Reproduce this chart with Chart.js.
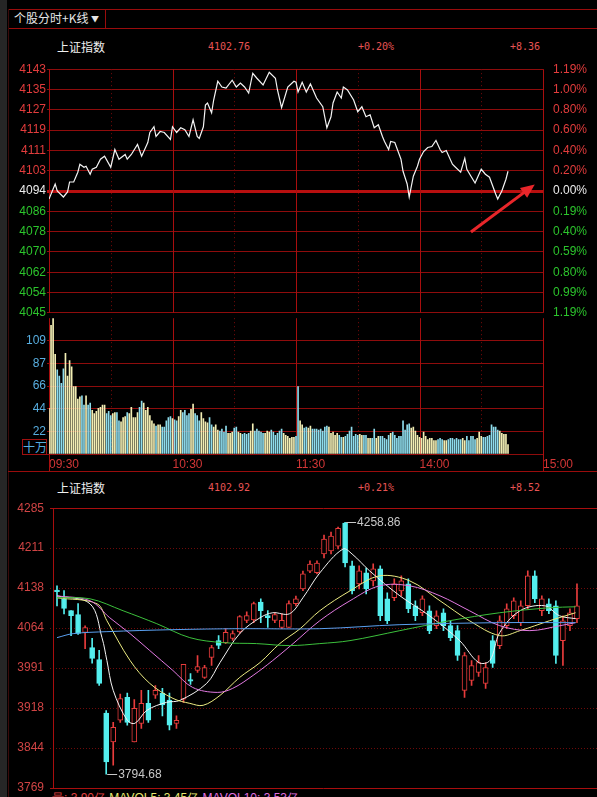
<!DOCTYPE html>
<html><head><meta charset="utf-8">
<script src="https://cdn.jsdelivr.net/npm/chart.js@4/dist/chart.umd.min.js"></script>
<style>
html,body{margin:0;padding:0;background:#000;width:597px;height:797px;overflow:hidden;}
canvas{position:absolute;left:0;}
.t{position:absolute;white-space:nowrap;}
.cn{font-family:"Noto Sans CJK SC",sans-serif;font-size:12px;color:#f0f0f0;line-height:14px;}
.num{font-family:"DejaVu Sans Mono",monospace;font-size:10px;color:#e85454;line-height:12px;}
.ln{position:absolute;background:#9a0c0c;}
</style></head><body>
<div class="ln" style="left:0;top:0;width:7px;height:797px;background:#262626"></div>
<div class="ln" style="left:8px;top:9px;width:589px;height:1px"></div>
<div class="ln" style="left:8px;top:28px;width:589px;height:1px"></div>
<div class="ln" style="left:105px;top:9px;width:1px;height:19px"></div>
<div class="ln" style="left:8px;top:9px;width:1px;height:788px;background:#3a0a0a"></div>
<div class="t cn" style="left:14px;top:11px;font-size:12px;color:#e6e6e6">个股分时+K线 <span style="font-size:8px;position:relative;top:-1px">▼</span></div>
<div class="t cn" style="left:57px;top:40px">上证指数</div>
<div class="t num" style="left:208px;top:41px">4102.76</div>
<div class="t num" style="left:358px;top:41px">+0.20%</div>
<div class="t num" style="left:510px;top:41px">+8.36</div>
<div class="ln" style="left:8px;top:471px;width:589px;height:1px"></div>
<div class="t cn" style="left:57px;top:481px">上证指数</div>
<div class="t num" style="left:208px;top:482px">4102.92</div>
<div class="t num" style="left:358px;top:482px">+0.21%</div>
<div class="t num" style="left:510px;top:482px">+8.52</div>
<div class="t cn" style="left:22px;top:439px;width:23px;height:14px;border:1px solid #a01010;color:#58aee0;font-size:12px;text-align:center;line-height:14px">十万</div>
<div class="t" style="left:52px;top:790px;font-family:'Liberation Sans',sans-serif;font-size:12px;color:#e04040">量: 3.90亿 <span style="color:#e8e870">MAVOL5: 3.45亿</span> <span style="color:#e070e0">MAVOL10: 3.53亿</span></div>
<canvas id="cA" width="597" height="262" style="top:60px"></canvas>
<canvas id="cB" width="597" height="165" style="top:310px"></canvas>
<canvas id="cC" width="597" height="297" style="top:500px"></canvas>
<script>
// ---------- intraday data ----------
const prevClose = 4094.40;
const priceStep = 8.12;
const priceTickLabels = ['4143','4135','4127','4119','4111','4103','4094','4086','4078','4070','4062','4054','4045'];
const pctTickLabels = ['1.19%','1.00%','0.80%','0.60%','0.40%','0.20%','0.00%','0.19%','0.40%','0.59%','0.80%','0.99%','1.19%'];
const priceMinutes = [0,3,4,7,9,10,12,14,15,17,18,20,21,23,25,27,30,32,34,37,38,40,43,45,48,49,51,52,54,56,59,60,62,64,66,68,70,72,73,75,76,77,79,80,82,84,86,89,91,93,95,97,99,101,104,107,110,111,113,116,119,120,121,123,125,127,130,133,135,137,138,140,142,143,145,148,150,152,154,156,158,160,162,163,165,166,168,171,172,174,175,177,179,180,182,184,186,188,190,191,193,196,197,200,202,203,205,207,210,212,214,217,218,220,222,223];
const priceValues = [4091.2,4097.2,4094.4,4092.0,4094.0,4098.0,4098.0,4101.9,4105.1,4103.9,4104.3,4101.1,4103.1,4103.9,4107.1,4108.3,4103.9,4111.0,4107.1,4109.0,4107.1,4109.0,4113.0,4108.3,4113.8,4117.8,4120.1,4116.2,4118.2,4117.8,4115.0,4120.1,4117.8,4119.7,4118.9,4116.2,4122.9,4116.2,4115.4,4120.1,4128.8,4129.6,4125.7,4130.8,4138.3,4136.0,4135.6,4138.7,4136.0,4137.6,4136.0,4133.6,4141.5,4139.5,4136.8,4141.9,4139.5,4134.8,4127.7,4136.0,4138.3,4137.9,4134.0,4137.9,4134.0,4137.2,4131.6,4128.1,4119.7,4124.1,4129.6,4134.0,4131.6,4136.0,4134.8,4130.8,4126.1,4128.1,4124.1,4124.9,4119.7,4120.9,4116.2,4114.2,4111.0,4114.2,4113.8,4107.1,4102.3,4097.2,4092.0,4100.3,4104.3,4107.1,4110.2,4111.8,4112.2,4114.6,4111.0,4109.8,4110.6,4105.1,4104.3,4101.9,4107.5,4103.1,4100.3,4097.6,4103.1,4101.1,4099.9,4093.2,4091.2,4094.4,4099.1,4102.3];
const volumeAM = [44,124,131,96,81,75,68,82,97,75,90,84,65,65,53,55,56,47,56,47,49,42,39,41,44,45,47,47,39,41,37,39,40,40,32,31,35,36,40,39,45,35,35,40,45,51,49,42,45,37,32,29,27,28,28,26,26,32,35,36,34,33,32,36,42,40,42,37,39,43,48,39,37,32,40,34,31,30,35,28,26,28,23,22,24,21,27,20,20,21,25,26,21,20,19,20,19,20,22,29,22,24,22,21,20,20,22,21,23,21,18,20,22,24,20,18,17,15,16,16,17];
const volumePM = [65,32,28,25,26,25,27,24,24,24,23,24,22,26,27,26,20,21,18,20,18,16,16,17,19,22,26,17,19,18,19,18,18,18,15,15,15,24,15,17,17,17,15,14,18,20,21,18,15,17,17,32,23,28,29,25,26,22,18,16,15,21,17,14,15,15,13,13,14,15,14,13,13,14,15,15,14,15,14,14,15,13,17,13,17,17,14,15,21,17,16,16,17,18,28,26,26,23,22,20,19,19,9];
const volStep = 21.8;
const volTickLabels = ['22','44','66','87','109'];
const timeTickMinutes = [0,60,120,180,240];
const timeTickLabels = ['09:30','10:30','11:30','14:00','15:00'];

// ---------- daily K-line data ----------
const candleTickLabels = ['4285','4211','4138','4064','3991','3918','3844','3769'];
const candleOpen  = [4134,4118,4096,4089,4056,4028,4006,3907,3854,3894,3936,3854,3888,3925,3940,3944,3931,3888,3933,3969,3986,3973,4010,4041,4037,4045,4057,4078,4079,4112,4087,4078,4065,4065,4109,4136,4169,4166,4200.5,4206.1,4215.2,4257.5,4178.5,4145.5,4165.7,4151.0,4173.0,4117.9,4119.8,4132.6,4145.5,4105.1,4092.2,4095.9,4068.4,4092.2,4068.4,4059.2,3949.0,3967.4,3982.1,3961.9,4040.8,4031.6,4068.4,4086.7,4073.9,4105.1,4160.2,4095.9,4108.7,4105.1,4040.8,4068.4,4081.2];
const candleHigh  = [4142,4133,4096,4109,4068,4045,4023,3912,3890,3942,3944,3932,3949,3949,3958,3953,3944,3902,3997,3980,4013,3995,4032,4050,4063,4059,4087,4094,4112,4118,4096,4092,4090,4114,4123,4169,4188,4188,4235.4,4241.0,4250.0,4258.86,4187.7,4178.5,4174.8,4182.2,4178.5,4128.9,4154.6,4160.2,4154.6,4114.3,4123.4,4105.1,4095.9,4099.6,4077.5,4068.4,4018.8,4004.1,4013.3,4000.4,4050.0,4086.7,4108.7,4119.8,4114.3,4169.3,4169.3,4123.4,4117.9,4114.3,4086.7,4099.6,4145.5];
const candleLow   = [4105,4090,4050,4052,4026,3999,3958,3794.68,3811,3890,3885,3854,3879,3890,3934,3902,3876,3879,3927,3960,3982,3971,3995,4026,4035,4041,4054,4074,4074,4074,4065,4074,4063,4065,4105,4133,4166,4164,4193.2,4200.5,4209.7,4176.7,4127.1,4136.3,4127.1,4141.8,4077.5,4072.0,4114.3,4123.4,4092.2,4077.5,4086.7,4053.7,4062.8,4059.2,4040.8,4004.1,3936.2,3958.2,3974.7,3952.7,3991.2,4026.1,4062.8,4081.2,4068.4,4099.6,4110.6,4086.7,4090.4,3998.6,3994.9,4059.2,4073.9];
const candleClose = [4131,4100,4087,4054,4065,4008,3962,3817,3881,3934,3890,3916,3925,3894,3949,3922,3885,3894,3997,3966,3993,3991,4028,4032,4056,4054,4085,4087,4109,4096,4083,4089,4078,4109,4118,4164,4182,4184,4228.1,4233.6,4248.0,4184.0,4132.6,4169.3,4136.3,4173.0,4086.7,4077.5,4145.5,4151.0,4099.6,4086.7,4117.9,4059.2,4086.7,4068.4,4046.3,4013.3,4013.3,3994.9,4000.4,3991.2,3998.6,4077.5,4099.6,4114.3,4105.1,4160.2,4117.9,4117.9,4095.9,4013.3,4077.5,4092.2,4105.1];
// moving averages read at candle positions (index, value)
const ma5Idx  = [0,4.7,6.4,7.1,8,10,11.1,12.8,15.6,17.5,21.3,23.2,26,28.9,30.7,33.1,35,37.4,40.7,42,44.5,48.8,53,57.3,60,61.6,63,65.9,69.4,71.5,73.8];
const ma5Val  = [4123.4,4108.7,4046.3,4004.1,3949,3893.9,3888.4,3912.3,3927.0,3930.6,3961.9,4000.4,4053.7,4083.0,4092.2,4090.4,4119.8,4165.7,4209.7,4200.5,4169.3,4123.4,4086.7,4040.8,4000.4,4004,4055.5,4095.9,4105.1,4086.7,4081.2];
const ma10Idx = [0,5.7,7.1,10.4,13.2,16.5,18.9,20.8,23.2,26,28.9,31.7,34.6,37.4,41.7,45.9,50.2,54.5,58.7,63,65.9,70.1,73.8];
const ma10Val = [4119.8,4108.7,4077.5,4004.1,3961.9,3934.3,3925.1,3921.5,3939.8,3972.9,4000.4,4035.3,4062.8,4095.9,4132.6,4160.2,4151.0,4114.3,4077.5,4050.0,4059.2,4077.5,4092.2];
const ma20Idx = [0,4.7,7.5,10.4,13.2,16.5,19.3,22.8,25,27.9,30.7,33.6,37.4,41.7,45.9,50.2,54.5,58.7,63,67.3,71.6,73.8];
const ma20Val = [4123.4,4114.3,4083.0,4053.7,4022.5,3985.7,3954.5,3945.3,3952.7,3976.6,4004.1,4035.3,4077.5,4114.3,4141.8,4141.8,4123.4,4095.9,4068.4,4059.2,4068.4,4073.9];
const ma60Idx = [0,4.7,9.4,14.2,18.9,23.6,28.4,33.1,37.4,41.7,48.8,55.9,63,70.1,73.8];
const ma60Val = [4119.8,4117.9,4095.9,4072.0,4046.3,4037.1,4035.3,4031.6,4035.3,4040.8,4059.2,4077.5,4092.2,4101.4,4103.2];
const ma120Idx = [0,2.3,7.1,16.5,26,37.4,48.8,63,73.8];
const ma120Val = [4046.3,4053.7,4057.3,4061.0,4062.8,4062.8,4070.2,4073.9,4073.9];

// ---------- helpers ----------
const RED_GRID = '#8e0c0c';
const RED_LINE = '#a80e0e';
const LBL_FONT = {family:'Liberation Sans', size:12};
const priceTicksTopDown = priceTickLabels.map((_, k) => prevClose + (6 - k) * priceStep);
const priceAsc = priceTicksTopDown.slice().reverse();
const minutes = volumeAM.concat(volumePM);
function sideColor(k){ return k < 6 ? '#e23c3c' : (k === 6 ? '#ececec' : '#2cc42c'); }
function priceAt(m){
  for (let j = 1; j < priceMinutes.length; j++) {
    if (priceMinutes[j] >= m) {
      const a = priceMinutes[j-1], b = priceMinutes[j];
      return priceValues[j-1] + (priceValues[j] - priceValues[j-1]) * (m - a) / (b - a);
    }
  }
  return priceValues[priceValues.length - 1];
}
function drawTimeGrid(chart, extraBottom){
  const {ctx, chartArea:a, scales:{x}} = chart;
  ctx.save();
  for (let m = 0; m <= 240; m += 30) {
    const px = Math.round(x.getPixelForValue(m)) + 0.5;
    ctx.beginPath();
    if (m % 60 === 0 || m === 0 || m === 240) { ctx.setLineDash([]); ctx.strokeStyle = RED_LINE; }
    else { ctx.setLineDash([1,3]); ctx.strokeStyle = '#7a0a0a'; }
    ctx.lineWidth = 1;
    ctx.moveTo(px, a.top);
    ctx.lineTo(px, a.bottom + ((m === 240 || m === 0) ? extraBottom : 0));
    ctx.stroke();
  }
  ctx.restore();
}

// ---------- chart A: intraday price ----------
new Chart(document.getElementById('cA'), {
  type: 'line',
  data: { datasets: [{
    data: priceMinutes.map((m, i) => ({x: m, y: priceValues[i]})),
    borderColor: '#f4f4f4', borderWidth: 1.2, pointRadius: 0, tension: 0
  }]},
  options: {
    animation: false, responsive: false, devicePixelRatio: 1, events: [],
    layout: { padding: { top: 9, bottom: 7, left: 0, right: 0 } },
    plugins: { legend: { display: false }, tooltip: { enabled: false } },
    scales: {
      x: { type: 'linear', min: 0, max: 240, display: false },
      y: { position: 'left', min: priceAsc[0], max: priceAsc[12],
        afterBuildTicks: s => { s.ticks = priceAsc.map(v => ({value: v})); },
        afterFit: s => { s.width = 49; },
        ticks: { callback: (v, i) => priceTickLabels[12 - i], color: c => sideColor(12 - c.index), font: LBL_FONT, padding: 1 },
        grid: { color: c => c.index === 6 ? '#b80f0f' : RED_GRID, lineWidth: c => c.index === 6 ? 3 : 1, tickLength: 2 },
        border: { display: false } },
      y2: { position: 'right', min: priceAsc[0], max: priceAsc[12],
        afterBuildTicks: s => { s.ticks = priceAsc.map(v => ({value: v})); },
        afterFit: s => { s.width = 54; },
        ticks: { callback: (v, i) => pctTickLabels[12 - i], color: c => sideColor(12 - c.index), font: LBL_FONT, padding: 2 },
        grid: { display: false }, border: { display: false } }
    }
  },
  plugins: [{
    id: 'gridA',
    beforeDatasetsDraw(chart){ drawTimeGrid(chart, 0); },
    afterDatasetsDraw(chart){
      const {ctx, scales:{x, y}} = chart;
      const x0 = x.getPixelForValue(205), y0 = y.getPixelForValue(4078);
      const x1 = x.getPixelForValue(236), y1 = y.getPixelForValue(4097);
      const ang = Math.atan2(y1 - y0, x1 - x0);
      ctx.save();
      ctx.strokeStyle = '#e8262a'; ctx.fillStyle = '#e8262a'; ctx.lineWidth = 3;
      ctx.beginPath(); ctx.moveTo(x0, y0);
      ctx.lineTo(x1 - 9 * Math.cos(ang), y1 - 9 * Math.sin(ang)); ctx.stroke();
      ctx.beginPath(); ctx.moveTo(x1, y1);
      ctx.lineTo(x1 - 14 * Math.cos(ang) + 6 * Math.sin(ang), y1 - 14 * Math.sin(ang) - 6 * Math.cos(ang));
      ctx.lineTo(x1 - 14 * Math.cos(ang) - 6 * Math.sin(ang), y1 - 14 * Math.sin(ang) + 6 * Math.cos(ang));
      ctx.closePath(); ctx.fill();
      ctx.restore();
    }
  }]
});

// ---------- chart B: intraday volume ----------
new Chart(document.getElementById('cB'), {
  type: 'bar',
  data: { datasets: [{
    data: minutes.map((v, i) => ({x: i, y: v})),
    backgroundColor: c => {
      const i = c.dataIndex;
      return (i === 0 || priceAt(i) >= priceAt(i - 1)) ? '#f2eeb4' : '#8edcec';
    },
    barThickness: 1, grouped: false
  }]},
  options: {
    animation: false, responsive: false, devicePixelRatio: 1, events: [],
    layout: { padding: { top: 6, bottom: 0, left: 0, right: 54 } },
    plugins: { legend: { display: false }, tooltip: { enabled: false } },
    scales: {
      x: { type: 'linear', min: 0, max: 240, offset: false,
        afterBuildTicks: s => { s.ticks = timeTickMinutes.map(v => ({value: v})); },
        afterFit: s => { s.height = 21; },
        ticks: { callback: (v, i) => timeTickLabels[i], align: 'start', color: '#d23636', font: LBL_FONT, padding: 3, maxRotation: 0, autoSkip: false },
        grid: { display: false, drawTicks: false, tickLength: 0 }, border: { display: false } },
      y: { position: 'left', min: 0, max: volStep * 6,
        afterBuildTicks: s => { s.ticks = [0,1,2,3,4,5,6].map(k => ({value: k * volStep})); },
        afterFit: s => { s.width = 49; },
        ticks: { callback: (v, i) => (i >= 1 && i <= 5) ? volTickLabels[i - 1] : '', color: '#58aee0', font: LBL_FONT, padding: 1 },
        grid: { color: c => c.index === 6 ? 'rgba(0,0,0,0)' : RED_GRID, tickLength: 2 },
        border: { display: false } }
    }
  },
  plugins: [{ id: 'gridB', beforeDatasetsDraw(chart){ drawTimeGrid(chart, 17); } }]
});

// ---------- chart C: daily candles ----------
const candleStep = (4285 - 3769) / 7;
const candleAsc = candleTickLabels.map((_, k) => 3769 + k * candleStep);
const isUp = i => candleClose[i] >= candleOpen[i];
function maSet(idx, val, color){
  return { type: 'line', data: idx.map((x, i) => ({x, y: val[i]})), borderColor: color, borderWidth: 1,
    pointRadius: 0, tension: 0.35, order: 0 };
}
new Chart(document.getElementById('cC'), {
  type: 'bar',
  data: { datasets: [
    maSet(ma120Idx, ma120Val, '#5aa0f0'),
    maSet(ma60Idx, ma60Val, '#3cc03c'),
    maSet(ma20Idx, ma20Val, '#e27ae2'),
    maSet(ma10Idx, ma10Val, '#ecec82'),
    maSet(ma5Idx, ma5Val, '#f4f4f4'),
    { type: 'bar', order: 1, grouped: false, barThickness: 5,
      data: candleOpen.map((o, i) => ({x: i, y: [o, candleClose[i]]})),
      backgroundColor: c => isUp(c.dataIndex) ? '#000000' : '#54eeee',
      borderColor: c => isUp(c.dataIndex) ? '#e83c3c' : '#54eeee',
      borderWidth: 1, borderSkipped: false },
    { type: 'bar', order: 2, grouped: false, barThickness: 1,
      data: candleLow.map((l, i) => ({x: i, y: [l, candleHigh[i]]})),
      backgroundColor: c => isUp(c.dataIndex) ? '#e83c3c' : '#54eeee' }
  ]},
  options: {
    animation: false, responsive: false, devicePixelRatio: 1, events: [],
    layout: { padding: { top: 7, bottom: 9, left: 0, right: 0 } },
    plugins: { legend: { display: false }, tooltip: { enabled: false } },
    scales: {
      x: { type: 'linear', min: -0.57, max: 76.85, display: false, offset: false },
      y: { position: 'left', min: 3769, max: 4285,
        afterBuildTicks: s => { s.ticks = candleAsc.map(v => ({value: v})); },
        afterFit: s => { s.width = 53; },
        ticks: { callback: (v, i) => candleTickLabels[7 - i], color: '#d04444', font: LBL_FONT, padding: 1 },
        grid: { display: false }, border: { display: false } }
    }
  },
  plugins: [{
    id: 'gridC',
    beforeDatasetsDraw(chart){
      const {ctx, chartArea:a, scales:{y}} = chart;
      ctx.save();
      candleAsc.forEach((v, k) => {
        const py = Math.round(y.getPixelForValue(v)) + 0.5;
        ctx.beginPath();
        if (k === 0 || k === 7) { ctx.setLineDash([]); ctx.strokeStyle = RED_LINE; }
        else { ctx.setLineDash([1,2]); ctx.strokeStyle = '#6e0a0a'; }
        ctx.moveTo(a.left - 3, py); ctx.lineTo(a.right, py); ctx.stroke();
      });
      ctx.setLineDash([]); ctx.strokeStyle = RED_LINE;
      ctx.beginPath(); ctx.moveTo(a.left + 0.5, a.top); ctx.lineTo(a.left + 0.5, a.bottom); ctx.stroke();
      ctx.restore();
    },
    afterDatasetsDraw(chart){
      const {ctx, scales:{x, y}} = chart;
      let hi = 0, lo = 0;
      candleHigh.forEach((v, i) => { if (v > candleHigh[hi]) hi = i; });
      candleLow.forEach((v, i) => { if (v < candleLow[lo]) lo = i; });
      ctx.save();
      ctx.strokeStyle = '#c8c8c8'; ctx.fillStyle = '#c8c8c8'; ctx.lineWidth = 1;
      ctx.font = '12px "Liberation Sans"'; ctx.textBaseline = 'middle';
      [[hi, candleHigh[hi]], [lo, candleLow[lo]]].forEach(([i, v]) => {
        const px = x.getPixelForValue(i), py = Math.round(y.getPixelForValue(v)) + 0.5;
        ctx.beginPath(); ctx.moveTo(px + 1, py); ctx.lineTo(px + 11, py); ctx.stroke();
        ctx.fillText(v.toFixed(2), px + 12, py);
      });
      ctx.restore();
    }
  }]
});
</script>
</body></html>
